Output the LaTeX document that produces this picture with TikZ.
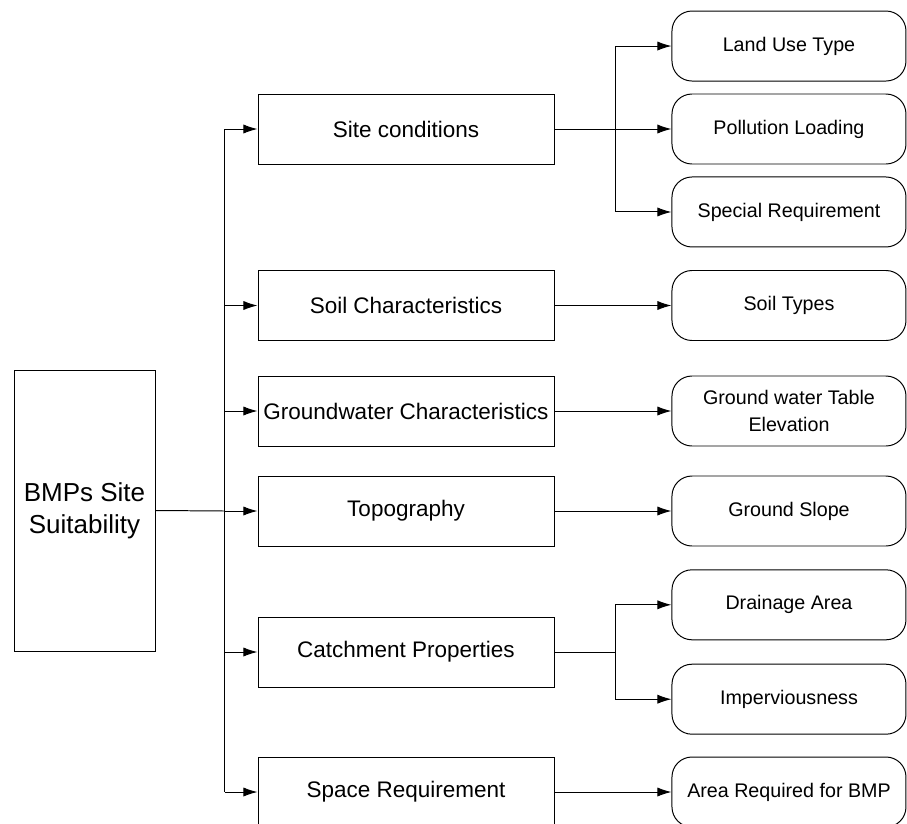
\documentclass[tikz,border=0pt]{standalone}
\usepackage{fontspec}
\setmainfont{Liberation Sans}
\usetikzlibrary{arrows.meta,positioning,calc}
\tikzset{
  rootbox/.style={rectangle,draw=black,line width=0.7pt,
    minimum width=3.525cm,minimum height=7.025cm,align=center,
    font=\fontsize{18.5}{22.5}\selectfont,inner sep=2pt},
  itembox/.style={rectangle,draw=black,line width=0.7pt,
    minimum width=7.4cm,minimum height=1.75cm,align=center,
    font=\fontsize{16}{19}\selectfont,inner sep=2pt},
  leafbox/.style={rectangle,rounded corners=0.5cm,draw=black,line width=0.7pt,
    minimum width=5.85cm,minimum height=1.75cm,align=center,
    font=\fontsize{14}{19}\selectfont,inner sep=2pt},
  arrow/.style={-{Latex[length=10pt,width=6.5pt]},line width=0.7pt,draw=black},
  link/.style={line width=0.7pt,draw=black},
}

\begin{document}
\begin{tikzpicture}[node distance=0.3cm and 2.925cm]
  \useasboundingbox (0,0) rectangle (22.675,-20.6);
  % root and second level
  \node[rootbox] (root) at (2.1125,-12.7625) {BMPs Site\\Suitability};
  \node[itembox] (site)  at (10.15,-3.225)   {Site conditions};
  \node[itembox] (soil)  at (10.15,-7.6375)  {Soil Characteristics};
  \node[itembox] (gw)    at (10.15,-10.275)  {Groundwater Characteristics};
  \node[itembox] (topo)  at (10.15,-12.775)  {Topography};
  \node[itembox] (catch) at (10.15,-16.3)    {Catchment Properties};
  \node[itembox] (space) at (10.15,-19.8)    {Space Requirement};
  % third level
  \node[leafbox, right=of site]      (poll)    {Pollution Loading};
  \node[leafbox, above=of poll]      (land)    {Land Use Type};
  \node[leafbox, below=of poll]      (special) {Special Requirement};
  \node[leafbox, right=of soil]      (soiltype) {Soil Types};
  \node[leafbox, right=of gw]        (table)   {Ground water Table\\Elevation};
  \node[leafbox, right=of topo]      (slope)   {Ground Slope};
  \node[leafbox, right=of catch, yshift=1.18cm]  (drain)  {Drainage Area};
  \node[leafbox, right=of catch, yshift=-1.18cm] (imperv) {Imperviousness};
  \node[leafbox, right=of space]     (area)    {Area Required for BMP};
  % forks
  \coordinate (trunk) at (5.6125,-12.775);
  \coordinate[right=1.525cm of site.east]  (sitefork);
  \coordinate[right=1.525cm of catch.east] (catchfork);
  \draw[link] (root.east) -- (trunk);
  \draw[link] (trunk |- site.west) -- (trunk |- space.west);
  \foreach \m in {site,soil,gw,topo,catch,space}
    \draw[arrow] (trunk |- \m.west) -- (\m.west);
  \draw[arrow] (site) -- (poll);
  \draw[arrow] (sitefork) |- (land);
  \draw[arrow] (sitefork) |- (special);
  \draw[arrow] (soil) -- (soiltype);
  \draw[arrow] (gw) -- (table);
  \draw[arrow] (topo) -- (slope);
  \draw[link] (catch.east) -- (catchfork);
  \draw[arrow] (catchfork) |- (drain);
  \draw[arrow] (catchfork) |- (imperv);
  \draw[arrow] (space) -- (area);
\end{tikzpicture}
\end{document}
